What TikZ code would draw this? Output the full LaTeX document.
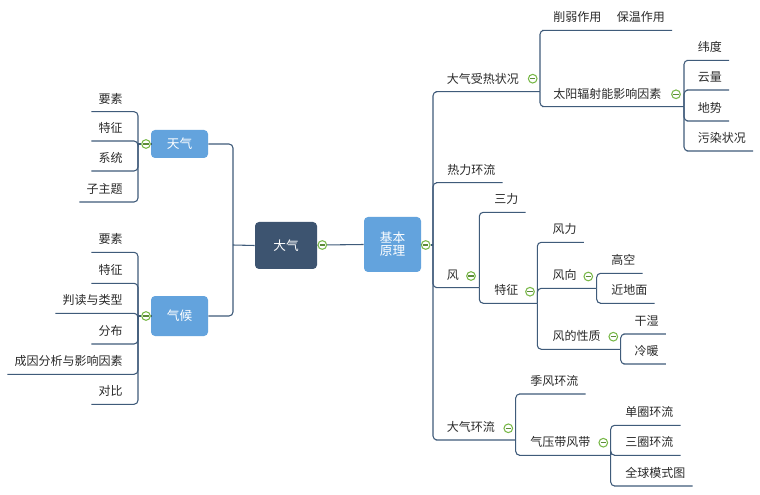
\documentclass[tikz,border=0pt]{standalone}
\usepackage{fontspec}
\setmainfont{Noto Sans CJK SC}
\definecolor{lineC}{HTML}{3F5B7A}
\definecolor{lightB}{HTML}{63A3DD}
\definecolor{darkB}{HTML}{3D5470}
\definecolor{mgreen}{HTML}{7AB94A}
\definecolor{txtC}{HTML}{2A2A2A}
\begin{document}
\begin{tikzpicture}[x=0.75pt,y=-0.75pt,
  ln/.style={draw=lineC, line width=0.8pt, rounded corners=3pt},
  tx/.style={font=\fontsize{9}{10}\selectfont, text=txtC, inner xsep=5.25pt, inner ysep=4.3pt, text height=7.2pt, text depth=1.8pt},
  rt/.style={tx, anchor=south west},
  lt/.style={tx, anchor=south east},
  box/.style={rounded corners=3pt, text=white, inner sep=0pt, align=center, font=\fontsize{9.5}{9.8}\selectfont},
  lbox/.style={box, fill=lightB},
  dbox/.style={box, fill=darkB},
  minus/.style={circle, draw=mgreen, fill=white, line width=0.8pt, minimum size=6.5pt, inner sep=0pt,
    path picture={\draw[mgreen!75!black, line width=0.9pt] ([xshift=-2pt]path picture bounding box.center) -- ([xshift=2pt]path picture bounding box.center);}}
]
\useasboundingbox[fill=white] (0,0) rectangle (760,495);

% main boxes
\node[lbox, minimum width=42.75pt, minimum height=21pt] (tq) at (179.5,144) {天气};
\node[lbox, minimum width=42.75pt, minimum height=30pt] (qh) at (179.5,316) {气候};
\node[dbox, minimum width=46.5pt, minimum height=35.25pt] (dq) at (286,245.5) {大气};
\node[lbox, minimum width=42.75pt, minimum height=41.25pt] (jb) at (392.5,244.5) {基本\\原理};

% junctions
\coordinate (jC) at (233,245);
\coordinate (jT) at (138,144);
\coordinate (jQ) at (138,316);
\coordinate (jR) at (433,245);
\coordinate (j1) at (540,91.7);
\coordinate (j12) at (684,106.7);
\coordinate (j3) at (479.3,287.7);
\coordinate (j32) at (537.3,303.3);
\coordinate (j322) at (596.7,288.3);
\coordinate (j323) at (620.7,349.3);
\coordinate (j4) at (515.7,440);
\coordinate (j42) at (610.7,455.3);

% collapse markers
\node[minus] (cT) at (146,144) {};
\node[minus] (cQ) at (146,316) {};
\node[minus] (cD) at (322.3,245) {};
\node[minus] (cR) at (425.7,245) {};
\node[minus] (c1) at (532.7,78.7) {};
\node[minus] (c12) at (676,94.3) {};
\node[minus] (c3) at (471,276) {};
\node[minus] (c32) at (530,291.7) {};
\node[minus] (c322) at (588.3,276.5) {};
\node[minus] (c323) at (613.3,336.7) {};
\node[minus] (c4) at (508.3,428.3) {};
\node[minus] (c42) at (603.3,442.7) {};

% left texts
\node[lt] (a1) at (130,111.7) {要素};
\node[lt] (a2) at (130,141) {特征};
\node[lt] (a3) at (130,171) {系统};
\node[lt] (a4) at (130,202) {子主题};
\node[lt] (b1) at (130,252.3) {要素};
\node[lt] (b2) at (130,283.3) {特征};
\node[lt] (b3) at (130,313.3) {判读与类型};
\node[lt] (b4) at (130,344) {分布};
\node[lt] (b5) at (130,374.3) {成因分析与影响因素};
\node[lt] (b6) at (130,404.3) {对比};

% right texts
\node[rt] (r1) at (439.7,91.7) {大气受热状况};
\node[rt] (r11) at (546,30.3) {削弱作用\hspace{1.3em}保温作用};
\node[rt] (r12) at (546,106.7) {太阳辐射能影响因素};
\node[rt] (r121) at (690.7,60.3) {纬度};
\node[rt] (r122) at (690.7,90) {云量};
\node[rt] (r123) at (690.7,121) {地势};
\node[rt] (r124) at (690.7,151) {污染状况};
\node[rt] (r2) at (440,182.7) {热力环流};
\node[rt] (r3) at (439.7,287.7) {风};
\node[rt] (r31) at (487,212.3) {三力};
\node[rt] (r32) at (487,303.3) {特征};
\node[rt] (r321) at (545.3,242.3) {风力};
\node[rt] (r322) at (545.3,288.3) {风向};
\node[rt] (r3221) at (604,273.3) {高空};
\node[rt] (r3222) at (604,303.3) {近地面};
\node[rt] (r323) at (545.3,349.3) {风的性质};
\node[rt] (r3231) at (627.3,334) {干湿};
\node[rt] (r3232) at (627.3,364) {冷暖};
\node[rt] (r4) at (439.7,440) {大气环流};
\node[rt] (r41) at (523,394) {季风环流};
\node[rt] (r42) at (523,455.3) {气压带风带};
\node[rt] (r421) at (618,425.3) {单圈环流};
\node[rt] (r422) at (618,455.3) {三圈环流};
\node[rt] (r423) at (618,486) {全球模式图};

% center connectors
\draw[ln] (jC) |- (tq.east);
\draw[ln] (jC) |- (qh.east);
\draw[ln] (jC) -- (dq.west);
\draw[ln] (dq.east) -- (cD);
\draw[ln] (cD) -- (jb.west);
\draw[ln] (jb.east) -- (cR);
\draw[ln] (cR) -- (jR);
\draw[ln] (tq.west) -- (cT);
\draw[ln] (cT) -- (jT);
\draw[ln] (qh.west) -- (cQ);
\draw[ln] (cQ) -- (jQ);

% left branches
\foreach \n in {a1,a2,a3,a4} \draw[ln] (jT) |- (\n.south east) -- (\n.south west);
\foreach \n in {b1,b2,b3,b4,b5,b6} \draw[ln] (jQ) |- (\n.south east) -- (\n.south west);

% right branches
\draw[ln] (jR) |- (r1.south west) -- (j1);
\draw[ln] (j1) |- (r11.south west) -- (r11.south east);
\draw[ln] (j1) |- (r12.south west) -- (j12);
\foreach \n in {r121,r122,r123,r124} \draw[ln] (j12) |- (\n.south west) -- (\n.south east);
\draw[ln] (jR) |- (r2.south west) -- (r2.south east);
\draw[ln] (jR) |- (r3.south west) -- (j3);
\draw[ln] (j3) |- (r31.south west) -- (r31.south east);
\draw[ln] (j3) |- (r32.south west) -- (j32);
\draw[ln] (j32) |- (r321.south west) -- (r321.south east);
\draw[ln] (j32) |- (r322.south west) -- (j322);
\foreach \n in {r3221,r3222} \draw[ln] (j322) |- (\n.south west) -- (\n.south east);
\draw[ln] (j32) |- (r323.south west) -- (j323);
\foreach \n in {r3231,r3232} \draw[ln] (j323) |- (\n.south west) -- (\n.south east);
\draw[ln] (jR) |- (r4.south west) -- (j4);
\draw[ln] (j4) |- (r41.south west) -- (r41.south east);
\draw[ln] (j4) |- (r42.south west) -- (j42);
\foreach \n in {r421,r422,r423} \draw[ln] (j42) |- (\n.south west) -- (\n.south east);
\end{tikzpicture}
\end{document}
